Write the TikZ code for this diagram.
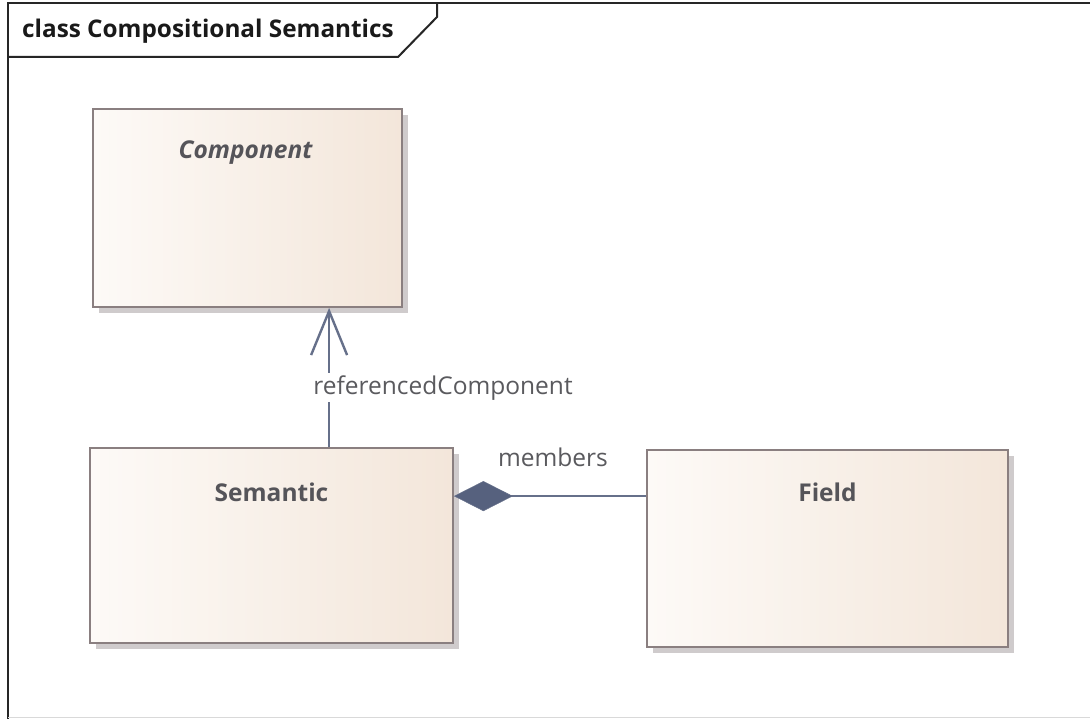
\documentclass[tikz,border=0pt]{standalone}
\usepackage{fontspec}
\setmainfont{Open Sans}
\usetikzlibrary{arrows.meta,calc,shadows}

\definecolor{boxleft}{HTML}{FDFAF7}
\definecolor{boxright}{HTML}{F3E6DA}
\definecolor{boxline}{HTML}{8A7F80}
\definecolor{boxshadow}{HTML}{CFCBCC}
\definecolor{nametext}{HTML}{555459}
\definecolor{conn}{HTML}{66708A}
\definecolor{connfill}{HTML}{56617E}
\definecolor{rolegray}{HTML}{5A5A5E}

\tikzset{
  classbox/.style={draw=boxline, line width=1.8pt, left color=boxleft, right color=boxright,
    shading angle=90, inner sep=0pt,
    drop shadow={shadow xshift=6pt, shadow yshift=-6pt, fill=boxshadow, opacity=1}},
  classname/.style={font=\fontsize{24.5}{28}\selectfont\bfseries, text=nametext, inner sep=0pt},
  rolename/.style={font=\fontsize{24.5}{28}\selectfont, text=rolegray, fill=white, inner sep=2pt},
  assoc/.style={draw=conn, line width=2.4pt, -{Straight Barb[length=44pt, width=36pt, line width=2.4pt]}},
  composite/.style={draw=conn, line width=2.4pt, {Diamond[length=59pt, width=30pt, fill=connfill, line width=0.5pt]}-},
  frameline/.style={draw=black!85, line width=2pt},
}

\begin{document}
\begin{tikzpicture}[x=1pt, y=-1pt]
  \useasboundingbox (0,0) rectangle (1090,719);
  \fill[white] (0,0) rectangle (1090,719);

  % diagram frame with its name tab
  \draw[frameline] (8,719) -- (8,3.5) -- (1090,3.5);
  \draw[black!15, line width=1.5pt] (8,717.5) -- (1090,717.5);
  \draw[frameline] (8,57) -- (398,57) -- (437,17) -- (437,3.5);
  \node[font=\fontsize{24.3}{28}\selectfont\bfseries, text=black!90, anchor=west, inner sep=0pt]
    (title) at (22,31) {class Compositional Semantics};

  % classes
  \node[classbox, minimum width=309pt, minimum height=198pt] (comp) at (247.5,208) {};
  \node[classbox, minimum width=363pt, minimum height=195pt] (sem) at (271.5,545.5) {};
  \node[classbox, minimum width=361pt, minimum height=197pt] (fld) at (827.5,548.5) {};

  \node[classname, font=\fontsize{24.5}{28}\selectfont\bfseries\itshape] (compname)
    at ($(comp.north)+(-2,44)$) {Component};
  \node[classname] (semname) at ($(sem.north)+(0,45)$) {Semantic};
  \node[classname] (fldname) at ($(fld.north)+(0,43)$) {Field};

  % association Semantic -> Component
  \coordinate (refbot) at ($(sem.north west)+(240,0)$);
  \draw[assoc] (refbot) -- node[rolename, pos=0.426, anchor=west, xshift=-19pt] (refrole) {referencedComponent}
    (refbot |- comp.south);

  % composition Semantic <>-- Field
  \coordinate (compend) at ($(sem.north east)+(0,49)$);
  \draw[composite] (compend) -- node[rolename, pos=0.515, yshift=39pt, fill=none] (memrole) {members}
    (compend -| fld.west);
\end{tikzpicture}
\end{document}
